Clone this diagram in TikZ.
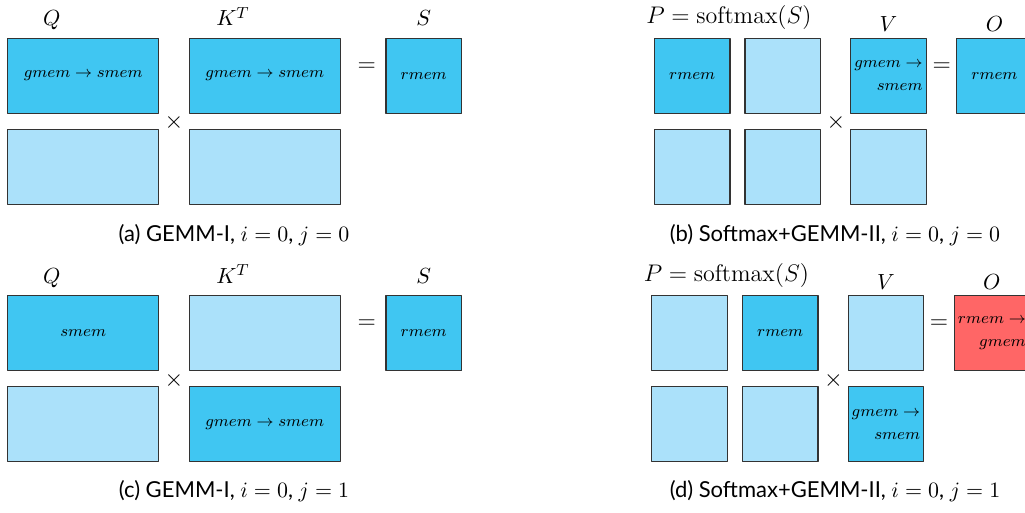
\documentclass[tikz,border=0pt]{standalone}
\usepackage{fontspec}
\setsansfont{Lato}
\definecolor{hotblue}{HTML}{40C6F2}
\definecolor{coldblue}{HTML}{ABE1FA}
\definecolor{outred}{HTML}{FF6666}
\begin{document}
\begin{tikzpicture}[x=0.5pt,y=-0.5pt,line join=round,
		mat/.style={draw=black!80,line width=0.6pt,inner sep=0pt,font=\footnotesize},
		wide/.style={mat,minimum width=75.6pt,minimum height=37.5pt},
		sq/.style={mat,minimum width=37.8pt,minimum height=37.5pt,align=right},
		hot/.style={fill=hotblue},cold/.style={fill=coldblue},done/.style={fill=outred},
		lbl/.style={anchor=base,inner sep=0pt,font=\fontsize{11}{13}\selectfont},
		op/.style={inner sep=0pt,font=\large},
		captext/.style={anchor=base,inner sep=0pt,font=\fontsize{11}{13}\selectfont\sffamily}]
	\useasboundingbox (0,0) rectangle (1025,513);
	% (a) GEMM-I, i=0, j=0
	\node[wide,hot] (qa1) at (83.2,75.8) {$gmem\rightarrow smem$};
	\node[wide,cold] (qa2) at (83.2,166.7) {};
	\node[wide,hot] (ka1) at (264.7,75.8) {$gmem\rightarrow smem$};
	\node[wide,cold] (ka2) at (264.7,166.7) {};
	\node[sq,hot] (sa) at (423.7,75.8) {$rmem$};
	\node[op] (xa) at (174,122.7) {$\times$};
	\node[op] (ea) at (366.7,66.7) {$=$};
	\foreach \x/\name/\lbl in {51.7/qla/Q,233/kla/K^T,423.7/sla/S}
		\node[lbl] (\name) at (\x,26) {$\lbl$};
	\node[captext] (capa) at (234,241.7) {(a) GEMM-I, $i=0$, $j=0$};
	% (b) Softmax+GEMM-II, i=0, j=0
	\node[sq,hot] (pb1) at (692.2,75.8) {$rmem$};
	\node[sq,cold] (pb2) at (782.8,75.8) {};
	\node[sq,cold] (pb3) at (692.2,166.7) {};
	\node[sq,cold] (pb4) at (782.8,166.7) {};
	\node[sq,hot] (vb1) at (888.5,75.8) {$gmem\rightarrow$\\[2pt]$smem$};
	\node[sq,cold] (vb2) at (888.5,166.7) {};
	\node[sq,hot] (ob) at (994.5,75.8) {$rmem$};
	\node[op] (xb) at (836,122.7) {$\times$};
	\node[op] (eb) at (941.7,66.7) {$=$};
	\node[lbl,font=\large] (plb) at (729,24) {$P=\mathrm{softmax}(S)$};
	\node[lbl] (vlb) at (888.5,31.7) {$V$};
	\node[lbl] (olb) at (994.5,31.7) {$O$};
	\node[captext] (capb) at (835,241.7) {(b) Softmax+GEMM-II, $i=0$, $j=0$};
	% (c) GEMM-I, i=0, j=1
	\begin{scope}[shift={(0,257.5)}]
		\node[wide,hot] (qc1) at (83.2,75.8) {$smem$};
		\node[wide,cold] (qc2) at (83.2,166.7) {};
		\node[wide,cold] (kc1) at (264.7,75.8) {};
		\node[wide,hot] (kc2) at (264.7,166.7) {$gmem\rightarrow smem$};
		\node[sq,hot] (sc) at (423.7,75.8) {$rmem$};
		\node[op] (xc) at (174,122.7) {$\times$};
		\node[op] (ec) at (366.7,66.7) {$=$};
		\foreach \x/\name/\lbl in {51.7/qlc/Q,233/klc/K^T,423.7/slc/S}
			\node[lbl] (\name) at (\x,26) {$\lbl$};
		\node[captext] (capc) at (234,240) {(c) GEMM-I, $i=0$, $j=1$};
	\end{scope}
	% (d) Softmax+GEMM-II, i=0, j=1
	\begin{scope}[shift={(-2.6,257.5)}]
		\node[sq,cold] (pd1) at (692.2,75.8) {};
		\node[sq,hot] (pd2) at (782.8,75.8) {$rmem$};
		\node[sq,cold] (pd3) at (692.2,166.7) {};
		\node[sq,cold] (pd4) at (782.8,166.7) {};
		\node[sq,cold] (vd1) at (888.5,75.8) {};
		\node[sq,hot] (vd2) at (888.5,166.7) {$gmem\rightarrow$\\[2pt]$smem$};
		\node[sq,done] (od) at (994.5,75.8) {$rmem\rightarrow$\\[2pt]$gmem$};
		\node[op] (xd) at (836,122.7) {$\times$};
		\node[op] (ed) at (941.7,66.7) {$=$};
		\node[lbl,font=\large] (pld) at (729,24) {$P=\mathrm{softmax}(S)$};
		\node[lbl] (vld) at (888.5,31.7) {$V$};
		\node[lbl] (old) at (994.5,31.7) {$O$};
		\node[captext] (capd) at (837.6,240) {(d) Softmax+GEMM-II, $i=0$, $j=1$};
	\end{scope}
\end{tikzpicture}
\end{document}
